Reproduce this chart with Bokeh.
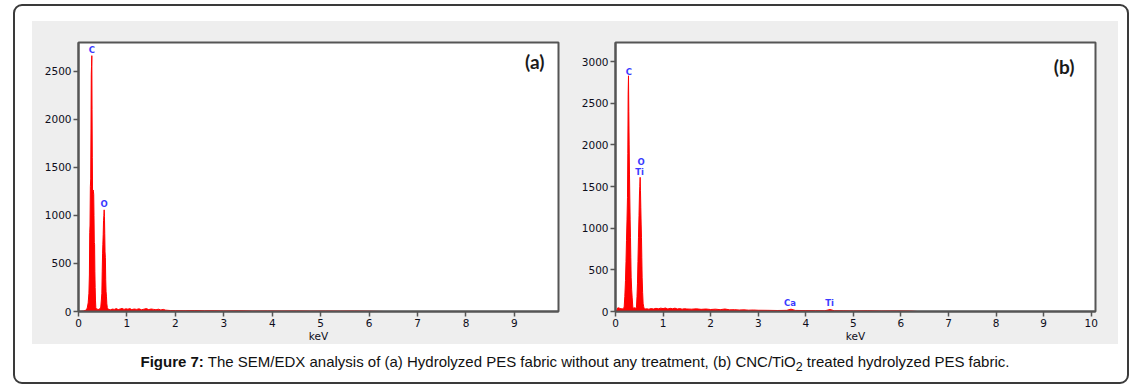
from bokeh.plotting import figure
from bokeh.models import Label, Div, FixedTicker, Range1d
from bokeh.layouts import row, column
from bokeh.core.properties import value
from bokeh.embed import file_html
from bokeh.resources import INLINE

# ---------------- data: panel (a) PES hydrolyse(1) ----------------
kev_a = [0.00, 0.10, 0.15, 0.18, 0.20, 0.215, 0.225, 0.232, 0.238, 0.245, 0.252, 0.258,
         0.264, 0.269, 0.275, 0.280, 0.285, 0.290, 0.296, 0.302, 0.308, 0.314, 0.320,
         0.326, 0.332, 0.338, 0.344, 0.351, 0.358, 0.370, 0.385, 0.400, 0.420, 0.440,
         0.460, 0.472, 0.482, 0.490, 0.497, 0.503, 0.510, 0.517, 0.524, 0.530, 0.536,
         0.542, 0.548, 0.555, 0.562, 0.569, 0.577, 0.585, 0.595, 0.610, 0.630,
         0.66, 0.70, 0.74, 0.78, 0.82, 0.86, 0.90, 0.94, 0.98, 1.02, 1.06, 1.10, 1.15,
         1.20, 1.25, 1.30, 1.35, 1.40, 1.45, 1.50, 1.55, 1.60, 1.65, 1.70, 1.75, 1.80,
         1.90, 2.0, 2.2, 2.4, 2.6, 2.8, 3.0, 3.3, 3.6, 3.9, 4.2, 4.5, 4.8, 5.1, 5.4,
         5.7, 6.0, 6.3]
counts_a = [0, 4, 12, 35, 90, 190, 380, 820, 900, 1300, 1380, 1900,
            2470, 2550, 2663, 2100, 1600, 1260, 1240, 1265, 1250, 1220, 1000,
            720, 700, 420, 250, 110, 40, 28, 22, 25, 20, 28,
            45, 120, 190, 420, 600, 700, 800, 945, 1000, 1058, 990,
            810, 620, 560, 330, 210, 160, 80, 40, 25, 20,
            18, 25, 22, 30, 20, 26, 32, 22, 28, 24, 30, 20, 26,
            22, 28, 18, 24, 30, 20, 26, 22, 18, 24, 16, 22, 14,
            10, 9, 8, 10, 7, 8, 6, 7, 5, 6, 5, 6, 4, 5, 4,
            5, 3, 0]
labels_a = ["C", "O"]
label_kev_a = [0.275, 0.53]
label_counts_a = [2726, 1119]
xticks_a = [0, 1, 2, 3, 4, 5, 6, 7, 8, 9]
yticks_a = [0, 500, 1000, 1500, 2000, 2500]
xmax_a, ymax_a = 9.91, 2800
full_scale_a = 2663
title_a = "PES hydrolyse(1)"

# ---------------- data: panel (b) PES hydrolyse TiO2 SG(1) ----------------
kev_b = [0.00, 0.03, 0.05, 0.08, 0.11, 0.14, 0.17, 0.182, 0.196, 0.210, 0.221, 0.231,
         0.242, 0.252, 0.259, 0.266, 0.273, 0.280, 0.287, 0.294, 0.301, 0.308, 0.315,
         0.322, 0.329, 0.340, 0.350, 0.364, 0.38, 0.40, 0.42, 0.441, 0.452, 0.462,
         0.472, 0.483, 0.494, 0.504, 0.511, 0.518, 0.525, 0.532, 0.539, 0.546, 0.553,
         0.560, 0.570, 0.581, 0.592, 0.602, 0.62,
         0.66, 0.70, 0.75, 0.80, 0.85, 0.90, 0.95, 1.00, 1.05, 1.10, 1.15, 1.20, 1.25,
         1.30, 1.35, 1.40, 1.45, 1.50, 1.60, 1.70, 1.80, 1.90, 2.00, 2.10, 2.20, 2.30,
         2.40, 2.50, 2.60, 2.70, 2.80, 2.90, 3.00, 3.20, 3.40, 3.60, 3.69, 3.78, 4.00,
         4.20, 4.40, 4.51, 4.60, 4.80, 5.00, 5.30, 5.60, 5.90, 6.20, 6.35]
counts_b = [0, 20, 45, 40, 35, 30, 40, 52, 180, 372, 600, 851,
            1100, 1371, 1900, 2610, 2830, 2400, 2010, 1650, 1351, 1100, 891,
            650, 412, 260, 172, 52, 40, 45, 40, 52, 180, 332,
            600, 891, 1150, 1411, 1500, 1611, 1450, 1251, 1050, 891, 650,
            412, 230, 92, 60, 36, 30,
            32, 28, 35, 30, 38, 32, 40, 35, 42, 30, 38, 33, 40,
            30, 35, 28, 34, 30, 28, 32, 26, 30, 24, 28, 22, 30,
            20, 22, 18, 20, 16, 18, 15, 14, 12, 14, 28, 13, 11,
            10, 9, 24, 9, 8, 7, 8, 6, 7, 5, 0]
labels_b = ["C", "O", "Ti", "Ca", "Ti"]
label_kev_b = [0.28, 0.54, 0.505, 3.67, 4.50]
label_counts_b = [2878, 1798, 1670, 100, 100]
xticks_b = [0, 1, 2, 3, 4, 5, 6, 7, 8, 9, 10]
yticks_b = [0, 500, 1000, 1500, 2000, 2500, 3000]
xmax_b, ymax_b = 10.09, 3230
full_scale_b = 2972
title_b = "PES hydrolyse TiO2 SG(1)"

GREY = "#eeeeee"
AXC = "#555555"
TXT = "#0d0d1a"
FONT = "Liberation Sans"
TICKFONT = "DejaVu Sans"


def make_panel(kev, counts, labels, lk, lc, xticks, yticks, xmax, ymax,
               full_scale, title, tag, left, right, head_x, title_x, tag_pos, head_y):
    p = figure(frame_width=480, frame_height=269,
               x_range=Range1d(0, xmax), y_range=Range1d(0, ymax),
               output_backend="svg", toolbar_location=None,
               min_border_left=left, min_border_right=right,
               min_border_top=21, min_border_bottom=32)
    p.border_fill_color = GREY
    p.background_fill_color = "white"
    p.outline_line_color = AXC
    p.outline_line_width = 2
    p.xgrid.visible = False
    p.ygrid.visible = False

    p.varea(x=kev, y1=0, y2=counts, fill_color="#ff0000")
    p.line(kev, counts, line_color="#ff0000", line_width=1)

    p.text(x=lk, y=lc, text=labels, text_font=value("DejaVu Sans"),
           text_font_style="bold", text_font_size="8.5px", text_color="#3a3aff",
           text_align="center", text_baseline="middle")

    for ax in (p.xaxis, p.yaxis):
        ax.axis_line_color = AXC
        ax.axis_line_width = 2
        ax.major_tick_line_color = AXC
        ax.major_tick_line_width = 1.5
        ax.major_tick_out = 5
        ax.major_tick_in = 0
        ax.minor_tick_line_color = None
        ax.major_label_text_font = TICKFONT
        ax.major_label_text_font_size = "10.5px"
        ax.major_label_text_color = TXT
    p.xaxis.ticker = FixedTicker(ticks=xticks)
    p.yaxis.ticker = FixedTicker(ticks=yticks)
    p.xaxis.major_label_standoff = 2
    p.yaxis.major_label_standoff = 2
    p.xaxis.axis_label = "keV"
    p.xaxis.axis_label_text_font = TICKFONT
    p.xaxis.axis_label_text_font_style = "normal"
    p.xaxis.axis_label_text_font_size = "10.5px"
    p.xaxis.axis_label_text_color = TXT
    p.xaxis.axis_label_standoff = 0

    p.add_layout(Label(x=head_x, y=head_y, text=f"Full scale counts:  {full_scale}",
                       text_font=FONT, text_font_style="bold", text_font_size="8.5px",
                       text_color=TXT, text_baseline="middle", text_align="left"))
    p.add_layout(Label(x=title_x, y=head_y, text=title,
                       text_font=FONT, text_font_style="bold", text_font_size="8.5px",
                       text_color=TXT, text_baseline="middle", text_align="center"))
    p.add_layout(Label(x=tag_pos[0], y=tag_pos[1], text=tag,
                       text_font="Lato", text_font_style="bold", text_font_size="19px",
                       text_color="#1a1a1a", text_baseline="middle", text_align="center"))
    return p


pa = make_panel(kev_a, counts_a, labels_a, label_kev_a, label_counts_a, xticks_a, yticks_a,
                xmax_a, ymax_a, full_scale_a, title_a, "(a)", 46, 13,
                -0.847, 4.65, (9.42, 2604), 2956)
pb = make_panel(kev_b, counts_b, labels_b, label_kev_b, label_counts_b, xticks_b, yticks_b,
                xmax_b, ymax_b, full_scale_b, title_b, "(b)", 44, 23,
                -0.861, 4.75, (9.43, 2945), 3425)

caption_html = (
    '<div style="width:1086px;text-align:center;font-family:\'Liberation Sans\',Arial,sans-serif;'
    'font-size:15px;color:#111;padding-top:7px;">'
    '<b>Figure 7:</b> The SEM/EDX analysis of (a) Hydrolyzed PES fabric without any treatment, '
    '(b) CNC/TiO<sub>2</sub> treated hydrolyzed PES fabric.</div>'
)

grey = row(pa, pb, spacing=0, styles={"background-color": GREY}, margin=(15, 9, 0, 17))
cap = Div(text=caption_html, width=1086, height=38, margin=(0, 9, 0, 17))
root = column(grey, cap, spacing=0, margin=(4, 0, 0, 13),
              styles={"border": "2px solid #3a3a3a", "border-radius": "9px"})

open("out.html", "w").write(file_html(root, INLINE))
